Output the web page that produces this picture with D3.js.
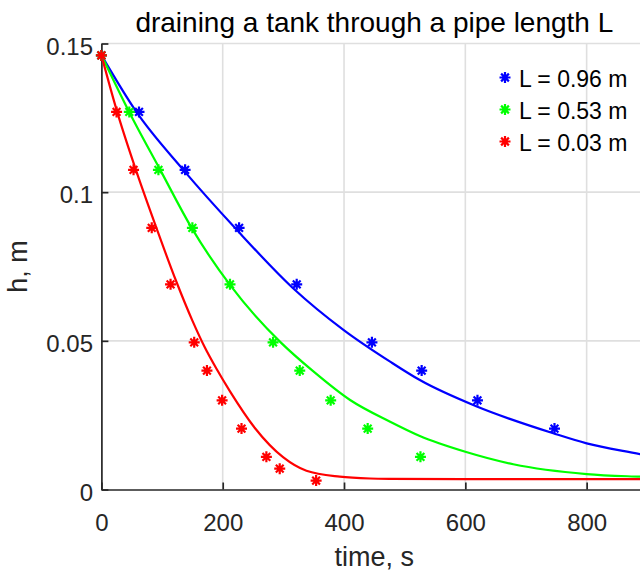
<!DOCTYPE html>
<html>
<head>
<meta charset="utf-8">
<script src="https://cdn.jsdelivr.net/npm/d3@7"></script>
<style>
  html, body { margin: 0; padding: 0; background: #fff; }
  svg { display: block; font-family: "Liberation Sans", Arial, Helvetica, sans-serif; }
</style>
</head>
<body>
<svg id="chart" width="640" height="575"></svg>
<script>
// Measured water heights (m) — shared levels for all three runs
const heights = [0.146, 0.127, 0.1075, 0.088, 0.069, 0.0495, 0.040, 0.030, 0.0205, 0.011, 0.007, 0.003];

// Times (s) at which each level was reached
const timesL096 = [0, 62, 138, 227, 322, 446, 528, 620, 747];
const timesL053 = [0, 46, 94, 150, 212, 283, 327, 378, 439, 526];
const timesL003 = [0, 25, 53, 83, 114, 153, 174, 199, 231, 272, 294, 354];

// Model curves: time (s) and height (m)
const modelT096 = [0, 58, 135, 222, 316, 399, 476, 525, 619, 745, 800, 888, 900];
const modelH096 = [0.1461, 0.1269, 0.1075, 0.0876, 0.0677, 0.0537, 0.0430, 0.0368, 0.0279, 0.0189, 0.0155, 0.0119, 0.0114];
const modelT053 = [0, 46, 97, 149, 212, 296, 349, 410, 476, 525, 600, 679, 800, 888, 900];
const modelH053 = [0.1461, 0.1269, 0.1075, 0.0879, 0.0688, 0.0494, 0.0398, 0.0301, 0.0228, 0.0180, 0.0127, 0.0085, 0.0052, 0.0043, 0.0042];
const modelT003 = [0, 26, 58, 91, 123, 150, 170, 190, 212, 253, 300, 338, 393, 443, 476, 600, 900];
const modelH003 = [0.1461, 0.1270, 0.1068, 0.0878, 0.0702, 0.0568, 0.0480, 0.0405, 0.0330, 0.0207, 0.0108, 0.0063, 0.0043, 0.0037, 0.0036, 0.0035, 0.0035];

const seriesNames = ["L = 0.96 m", "L = 0.53 m", "L = 0.03 m"];
const seriesColors = ["#0000ff", "#00ff00", "#ff0000"];

const xTicks = [0, 200, 400, 600, 800];
const yTicks = [0, 0.05, 0.1, 0.15];
const yTickLabels = ["0", "0.05", "0.1", "0.15"];

const series = [
  { name: seriesNames[0], color: seriesColors[0], t: timesL096, mt: modelT096, mh: modelH096 },
  { name: seriesNames[1], color: seriesColors[1], t: timesL053, mt: modelT053, mh: modelH053 },
  { name: seriesNames[2], color: seriesColors[2], t: timesL003, mt: modelT003, mh: modelH003 }
];

const svg = d3.select("#chart");
const x = d3.scaleLinear().domain([0, 900]).range([101.4, 647.3]);
const y = d3.scaleLinear().domain([0, 0.15]).range([489.5, 43.5]);
const axisColor = "#262626";

// grid
const grid = svg.append("g");
grid.selectAll("line.gx").data(xTicks.filter(d => d > 0)).join("line")
  .attr("x1", d => x(d)).attr("x2", d => x(d))
  .attr("y1", y(0)).attr("y2", y(0.15))
  .attr("stroke", "#dfdfdf").attr("stroke-width", 1.6);
grid.selectAll("line.gy").data(yTicks.filter(d => d > 0)).join("line")
  .attr("x1", x(0)).attr("x2", x(900))
  .attr("y1", d => y(d)).attr("y2", d => y(d))
  .attr("stroke", "#dfdfdf").attr("stroke-width", 1.6);

// axes
const xAxis = d3.axisBottom(x).tickValues(xTicks).tickFormat(d3.format("d"))
  .tickSizeInner(-7).tickSizeOuter(0).tickPadding(24.5);
const yAxis = d3.axisLeft(y).tickValues(yTicks).tickFormat((d, i) => yTickLabels[i])
  .tickSizeInner(-7).tickSizeOuter(0).tickPadding(8.4);

const gx = svg.append("g").attr("transform", `translate(0,${y(0)})`).call(xAxis);
const gy = svg.append("g").attr("transform", `translate(${x(0)},0)`).call(yAxis);
[gx, gy].forEach(g => {
  g.select(".domain").attr("stroke", axisColor).attr("stroke-width", 1.7);
  g.selectAll(".tick line").attr("stroke", axisColor).attr("stroke-width", 1.7);
  g.selectAll(".tick text").attr("fill", axisColor)
    .style("font-family", "'Liberation Sans', Arial, sans-serif").style("font-size", "24px");
});
gy.selectAll(".tick text").attr("dy", "0.44em");

// model curves
const line = d3.line().x(d => x(d[0])).y(d => y(d[1])).curve(d3.curveMonotoneX);
series.forEach(s => {
  const pts = s.mt.map((t, i) => [t, s.mh[i]]);
  svg.append("path").datum(pts)
    .attr("d", line)
    .attr("fill", "none")
    .attr("stroke", s.color)
    .attr("stroke-width", 2.2);
});

// asterisk marker
const r = 5.5, dd = r * 0.7071;
const starPath = `M${-r},0H${r}M0,${-r}V${r}M${-dd},${-dd}L${dd},${dd}M${-dd},${dd}L${dd},${-dd}`;

series.forEach(s => {
  svg.append("g").selectAll("path").data(s.t.map((t, i) => [t, heights[i]])).join("path")
    .attr("transform", d => `translate(${x(d[0])},${y(d[1])})`)
    .attr("d", starPath)
    .attr("fill", "none")
    .attr("stroke", s.color)
    .attr("stroke-width", 2.2);
});

// legend
const legend = svg.append("g");
series.forEach((s, i) => {
  const ly = 77.5 + i * 32;
  legend.append("path")
    .attr("transform", `translate(505,${ly})`)
    .attr("d", starPath)
    .attr("fill", "none")
    .attr("stroke", s.color)
    .attr("stroke-width", 2.2);
  legend.append("text")
    .attr("x", 519).attr("y", ly + 9.5)
    .attr("fill", "#000")
    .style("font-size", "23px")
    .text(s.name);
});

// title and axis labels
svg.append("text")
  .attr("x", (x(0) + x(900)) / 2).attr("y", 32)
  .attr("text-anchor", "middle")
  .attr("fill", "#000")
  .style("font-size", "28px")
  .text("draining a tank through a pipe length L");

svg.append("text")
  .attr("x", (x(0) + x(900)) / 2).attr("y", 566)
  .attr("text-anchor", "middle")
  .attr("fill", axisColor)
  .style("font-size", "27px")
  .text("time, s");

svg.append("text")
  .attr("transform", `translate(27,${(y(0) + y(0.15)) / 2}) rotate(-90)`)
  .attr("text-anchor", "middle")
  .attr("fill", axisColor)
  .style("font-size", "27px")
  .text("h, m");
</script>
</body>
</html>
